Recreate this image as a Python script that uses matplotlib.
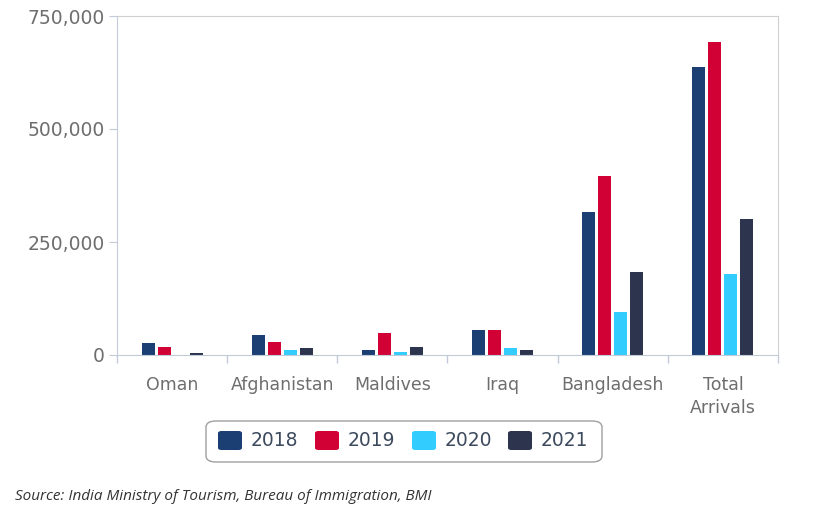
import numpy as np
import matplotlib.pyplot as plt
from matplotlib.patches import FancyBboxPatch

plt.rcParams["font.family"] = ["DejaVu Sans"]

categories = ["Oman", "Afghanistan", "Maldives", "Iraq", "Bangladesh", "Total\nArrivals"]
years = ["2018", "2019", "2020", "2021"]
v2018 = [26000, 44000, 11000, 55000, 317000, 637000]
v2019 = [18500, 29500, 48000, 55000, 397000, 692000]
v2020 = [0, 11000, 7400, 14800, 94700, 180000]
v2021 = [5000, 14800, 18500, 11000, 184000, 300000]
yticks = [0, 250000, 500000, 750000]

colors = ["#1b3f73", "#d10035", "#33ccff", "#2c354d"]
series = [v2018, v2019, v2020, v2021]

fig = plt.figure(figsize=(8.26, 5.13), dpi=100)
ax = fig.add_axes([117 / 826, 1 - 355 / 513, 661 / 826, 339 / 513])

x = np.arange(len(categories))
step = 0.145
width = 0.118
for i, (vals, c) in enumerate(zip(series, colors)):
    ax.bar(x + (i - 1.5) * step, vals, width=width, color=c, label=years[i])

ax.set_xlim(-0.5, len(categories) - 0.5)
ax.set_ylim(0, 750000)
ax.set_yticks(yticks)
ax.set_yticklabels([f"{v:,}" for v in yticks])
ax.set_xticks(x)
ax.set_xticklabels(categories, linespacing=1.4)
ax.set_xticks(np.arange(len(categories) + 1) - 0.5, minor=True)
ax.tick_params(axis="x", which="major", length=0, pad=15, labelsize=12.5, labelcolor="#6e6e6e")
ax.tick_params(axis="x", which="minor", length=6, color="#c3cad8", width=1)
ax.tick_params(axis="y", length=6, color="#c3cad8", labelsize=13.5, labelcolor="#6e6e6e", pad=3)

for s in ["left", "bottom"]:
    ax.spines[s].set_color("#c3cad8")
for s in ["top", "right"]:
    ax.spines[s].set_color("#d0d0d0")

# legend drawn by hand inside a rounded box
box = FancyBboxPatch((206 / 826, 1 - 462 / 513), 396 / 826, 41 / 513,
                     boxstyle="round,pad=0,rounding_size=0.012",
                     transform=fig.transFigure, facecolor="white",
                     edgecolor="#a0a0a0", linewidth=1)
fig.patches.append(box)
lx = [218, 315, 412, 508]
for px, yr, c in zip(lx, years, colors):
    sw = FancyBboxPatch((px / 826, 1 - 450 / 513), 24 / 826, 19 / 513,
                        boxstyle="round,pad=0,rounding_size=0.004",
                        transform=fig.transFigure, facecolor=c, edgecolor="none")
    fig.patches.append(sw)
    fig.text((px + 33) / 826, 1 - 441 / 513, yr, fontsize=13.5, color="#3d4a5e",
             va="center", ha="left")

fig.text(15 / 826, 1 - 496 / 513, "Source: India Ministry of Tourism, Bureau of Immigration, BMI",
         fontsize=11, style="italic", family="Open Sans", color="#333333", va="center")

fig.savefig("out.png", dpi=100)
